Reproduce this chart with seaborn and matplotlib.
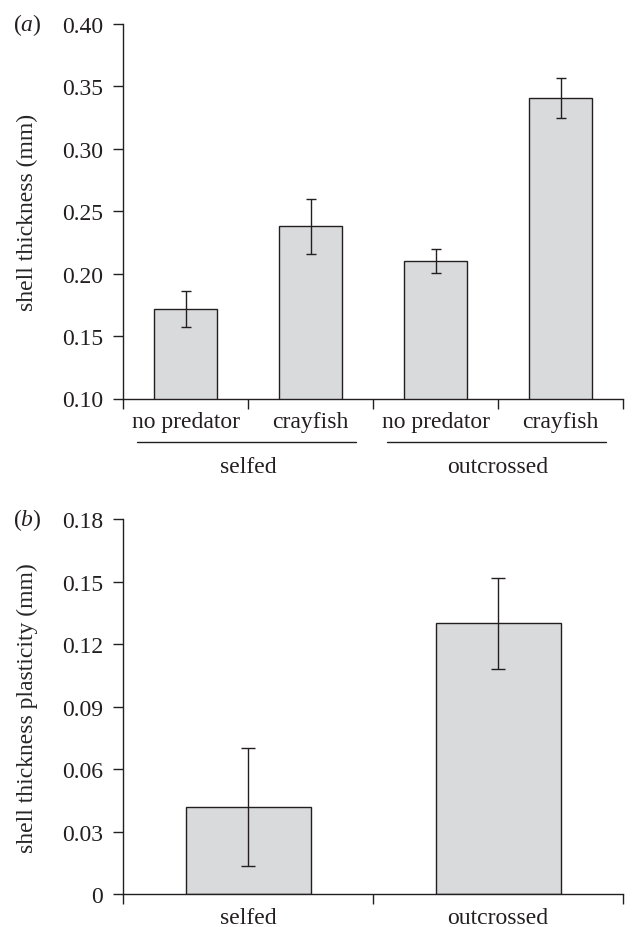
"""
Shell thickness and plasticity for selfed vs outcrossed snails.
"""

import numpy as np
import pandas as pd
import matplotlib
matplotlib.use("Agg")
import matplotlib.pyplot as plt
import matplotlib.transforms as mtransforms
import seaborn as sns

# panel (a) data
treatments = ["no predator", "crayfish", "no predator", "crayfish"]
groups_a = ["selfed", "selfed", "outcrossed", "outcrossed"]
thickness = [0.1716, 0.2378, 0.2102, 0.3407]
thickness_se = [0.0147, 0.0217, 0.0096, 0.0164]

# panel (b) data
lines_b = ["selfed", "outcrossed"]
plasticity = [0.0418, 0.1299]
plasticity_se = [0.0282, 0.0218]

BAR = "#d9dadc"
INK = "#231f20"
FS = 17

sns.set_style("ticks")
plt.rcParams["font.family"] = ["Liberation Serif", "DejaVu Serif"]
plt.rcParams["mathtext.fontset"] = "custom"
plt.rcParams["mathtext.rm"] = "Liberation Serif"
plt.rcParams["mathtext.it"] = "Liberation Serif:italic"
plt.rcParams["text.color"] = INK
plt.rcParams["axes.edgecolor"] = INK
plt.rcParams["xtick.color"] = INK
plt.rcParams["ytick.color"] = INK
plt.rcParams["axes.linewidth"] = 1.0

W, H = 632, 928
fig = plt.figure(figsize=(W / 100, H / 100), dpi=100)


def px_axes(left, right, top, bottom):
    return fig.add_axes([left / W, 1 - bottom / H, (right - left) / W, (bottom - top) / H])


def style_axes(ax, n, cap_pts):
    sns.despine(ax=ax)
    ax.set_xlim(-0.5, n - 0.5)
    ax.set_xticks(np.arange(-0.5, n), minor=True)
    ax.tick_params(axis="x", which="major", length=0, pad=9, labelsize=FS)
    ax.tick_params(axis="x", which="minor", length=7.2, width=1.0, direction="out")
    ax.tick_params(axis="y", length=7.2, width=1.0, direction="out", pad=7, labelsize=FS)
    ax.set_xlabel("")
    for p in ax.patches:
        p.set_edgecolor(INK)
        p.set_linewidth(1.0)


# ---- panel (a)
ax1 = px_axes(123, 623, 25, 399.5)
df_a = pd.DataFrame({"pos": range(len(treatments)), "thickness": thickness})
sns.barplot(data=df_a, x="pos", y="thickness", color=BAR, saturation=1,
            width=0.5, errorbar=None, ax=ax1)
ax1.errorbar(np.arange(len(thickness)), thickness, yerr=thickness_se, fmt="none",
             ecolor=INK, elinewidth=1.0, capsize=3.4, capthick=1.0)
ax1.set_ylim(0.10, 0.40)
ax1.set_yticks(np.arange(0.10, 0.401, 0.05))
ax1.set_yticklabels([f"{v:.2f}" for v in np.arange(0.10, 0.401, 0.05)])
ax1.set_xticks(range(len(treatments)))
ax1.set_xticklabels(treatments)
style_axes(ax1, len(treatments), 3.4)
ax1.set_ylabel("shell thickness (mm)", fontsize=FS, va="center")
ax1.yaxis.set_label_coords(-0.191, 0.5)

# group underlines and labels below the treatment names
trans = mtransforms.blended_transform_factory(ax1.transData, ax1.transAxes)
for name in ["selfed", "outcrossed"]:
    idx = [i for i, g in enumerate(groups_a) if g == name]
    x0, x1 = min(idx) - 0.39, max(idx) + 0.36
    ax1.plot([x0, x1], [-0.1152, -0.1152], transform=trans, color=INK,
             lw=1.0, clip_on=False)
    ax1.text(np.mean(idx), -0.196, name, transform=trans, ha="center",
             va="baseline", fontsize=FS)

fig.text(13 / W, 1 - 31.5 / H, r"($\mathit{a}$)", fontsize=FS, va="baseline", ha="left")

# ---- panel (b)
ax2 = px_axes(123, 623, 520, 895.3)
df_b = pd.DataFrame({"line": lines_b, "plasticity": plasticity})
sns.barplot(data=df_b, x="line", y="plasticity", color=BAR, saturation=1,
            width=0.5, errorbar=None, ax=ax2)
ax2.errorbar(np.arange(len(plasticity)), plasticity, yerr=plasticity_se, fmt="none",
             ecolor=INK, elinewidth=1.0, capsize=5, capthick=1.0)
ax2.set_ylim(0, 0.18)
yt = np.arange(0, 0.181, 0.03)
ax2.set_yticks(yt)
ax2.set_yticklabels(["0"] + [f"{v:.2f}" for v in yt[1:]])
style_axes(ax2, len(lines_b), 5)
ax2.set_ylabel("shell thickness plasticity (mm)", fontsize=FS, va="center")
ax2.yaxis.set_label_coords(-0.191, 0.5)

fig.text(13 / W, 1 - 526.5 / H, r"($\mathit{b}$)", fontsize=FS, va="baseline", ha="left")

fig.savefig("out.png", dpi=100)
